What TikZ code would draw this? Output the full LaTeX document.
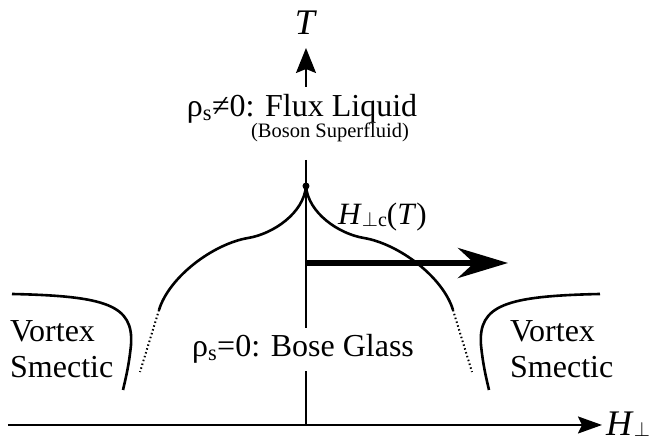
\documentclass[tikz,border=0pt]{standalone}
\usepackage{fontspec}
\setmainfont{Liberation Serif}
\usetikzlibrary{arrows.meta}
\begin{document}
\begin{tikzpicture}[x=1pt, y=1pt,
    axis/.style={line width=2pt},
    phase/.style={line width=2.6pt},
    lbl/.style={font=\fontsize{32}{36}\selectfont, inner sep=0pt}]
    \useasboundingbox (-306,-18) rectangle (351,425);

    % axes
    \coordinate (O) at (0,0);
    \coordinate (Hleft) at (-298,0);
    \coordinate (Hend) at (296,0);
    \coordinate (Tbase) at (0,338);
    \coordinate (Ttip) at (0,377);
    \coordinate (Vtop) at (0,265);
    \draw[axis, -{Stealth[length=24pt, width=17pt, inset=4pt]}] (Hleft) -- (Hend);
    \draw[axis, -{Stealth[length=25pt, width=20pt, inset=4pt]}] (Tbase) -- (Ttip);
    \draw[axis] (Vtop) -- (O);
    \node[anchor=base west, inner sep=0pt, font=\fontsize{36}{40}\selectfont] (Hlab) at (300,-11) {\textit{H}{\fontsize{22}{24}\selectfont\raisebox{-1pt}{$\perp$}}};
    \node[anchor=base, inner sep=0pt, font=\fontsize{36}{40}\selectfont] (Tlab) at (0,390) {\textit{T}};

    % phase labels
    \node[lbl, anchor=base] (flux) at (-4,308) {ρ\textsubscript{s}≠0: Flux Liquid};
    \node[inner sep=0pt, anchor=base, font=\fontsize{20.5}{24}\selectfont] (boson) at (24,287) {(Boson Superfluid)};
    \node[lbl, anchor=base, fill=white, text height=23pt, text depth=8pt, inner sep=6pt] (bose) at (-3,68) {ρ\textsubscript{s}=0: Bose Glass};

    % cusp point
    \node[circle, fill, inner sep=0pt, minimum size=7pt] (cusp) at (0,239) {};

    % melting line H_c(T)
    \draw[phase] (cusp.center) .. controls (2,212) and (33,191) .. (58,187) .. controls (93,181) and (137,148) .. (147,115);
    \draw[phase] (cusp.center) .. controls (-2,212) and (-33,191) .. (-58,187) .. controls (-93,181) and (-137,148) .. (-147,115);
    \draw[line width=2pt, dash pattern=on 1.5pt off 2.5pt] (147,115) -- (166,53);
    \draw[line width=2pt, dash pattern=on 1.5pt off 2.5pt] (-147,115) -- (-166,53);
    \node[anchor=base west, inner sep=0pt, font=\fontsize{31}{34}\selectfont] (Hc) at (32,200) {\textit{H}{\fontsize{20}{22}\selectfont\raisebox{-2pt}{$\perp$c}}(\textit{T})};

    % field arrow
    \coordinate (Astart) at (0,162);
    \coordinate (Aend) at (202,162);
    \draw[line width=6pt, -{Stealth[length=50pt, width=30pt, inset=16pt]}] (Astart) -- (Aend);

    % smectic boundaries
    \draw[phase] (-294,131) .. controls (-200,129) and (-172,120) .. (-175,80) .. controls (-177,60) and (-180,48) .. (-183,35);
    \draw[phase] (294,131) .. controls (200,129) and (172,120) .. (175,80) .. controls (177,60) and (180,48) .. (183,35);
    \node[lbl, anchor=base west, align=left] (smL) at (-296,47) {Vortex\\Smectic};
    \node[lbl, anchor=base west, align=left] (smR) at (204,47) {Vortex\\Smectic};
\end{tikzpicture}
\end{document}
